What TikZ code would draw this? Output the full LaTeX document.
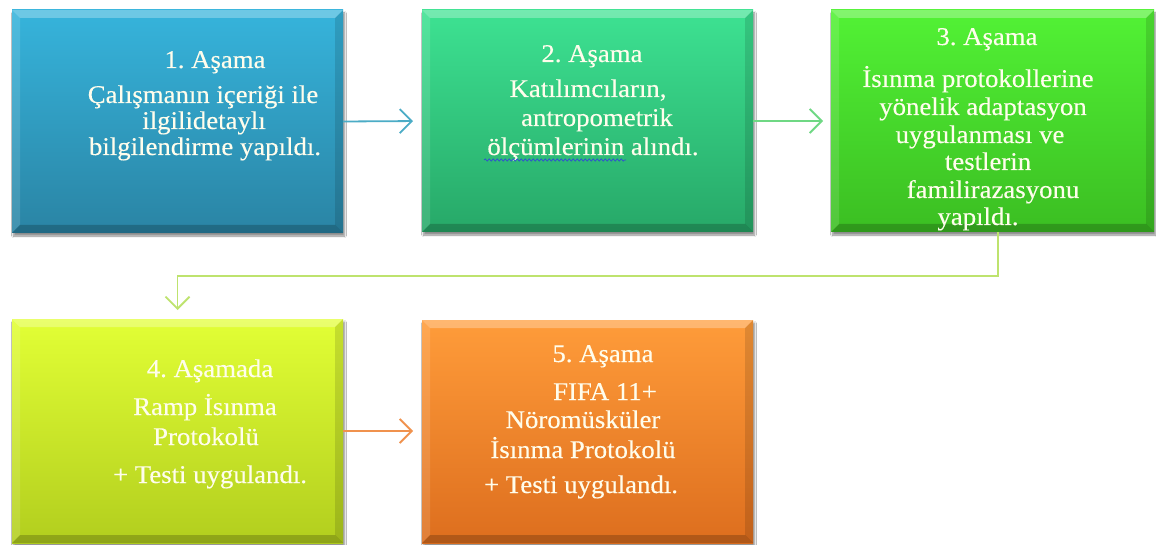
\documentclass[tikz,border=0pt]{standalone}
\usepackage{fontspec}
\setmainfont[FakeStretch=1.05,FakeBold=0.3]{Liberation Serif}
\usetikzlibrary{arrows.meta,calc,shadows.blur,decorations.pathmorphing}
\frenchspacing
\definecolor{txtcol}{RGB}{255,253,236}
\definecolor{bAtop}{HTML}{36B4DC}\definecolor{bAbot}{HTML}{2A84A4}
\definecolor{bBtop}{HTML}{3DE292}\definecolor{bBbot}{HTML}{27A868}
\definecolor{bCtop}{HTML}{52F235}\definecolor{bCbot}{HTML}{3BBE22}
\definecolor{bDtop}{HTML}{E2FF35}\definecolor{bDbot}{HTML}{B2CE1E}
\definecolor{bEtop}{HTML}{FF9C3A}\definecolor{bEbot}{HTML}{DD6E1E}
\definecolor{arA}{HTML}{4BACC6}
\definecolor{arB}{HTML}{6FD884}
\definecolor{arC}{HTML}{BEE36E}
\definecolor{arD}{HTML}{F0924E}
\definecolor{wavecol}{HTML}{3050D0}
\newcommand\bevelit[1]{%
  \fill[white,opacity=.28] (#1.north west) -- (#1.north east) -- ($(#1.north east)+(-8,8)$) -- ($(#1.north west)+(8,8)$) -- cycle;
  \fill[white,opacity=.12] (#1.north west) -- ($(#1.north west)+(8,8)$) -- ($(#1.south west)+(8,-8)$) -- (#1.south west) -- cycle;
  \fill[black,opacity=.12] (#1.north east) -- (#1.south east) -- ($(#1.south east)+(-8,-8)$) -- ($(#1.north east)+(-8,8)$) -- cycle;
  \fill[black,opacity=.20] (#1.south west) -- (#1.south east) -- ($(#1.south east)+(-8,-8)$) -- ($(#1.south west)+(8,-8)$) -- cycle;}
\begin{document}
\begin{tikzpicture}[x=1pt,y=-1pt,
  box/.style={draw=none, inner sep=0pt, outer sep=0pt,
    blur shadow={shadow xshift=1.5pt, shadow yshift=-3pt, shadow blur steps=6, shadow opacity=45}},
  txt/.style={text=txtcol, font=\fontsize{25.5}{30}\selectfont, anchor=base, inner sep=0pt},
  conn/.style={line width=1.8pt, -{Straight Barb[length=12pt,width=24pt]}},
]
\useasboundingbox[fill=white] (0,0) rectangle (1156,545);

% boxes
\node[box, top color=bAtop, bottom color=bAbot, minimum width=331pt, minimum height=223pt] (b1) at (177.5,121.5) {};
\node[box, top color=bBtop, bottom color=bBbot, minimum width=331pt, minimum height=222pt] (b2) at (587.5,121) {};
\node[box, top color=bCtop, bottom color=bCbot, minimum width=323pt, minimum height=222pt] (b3) at (992.5,121) {};
\node[box, top color=bDtop, bottom color=bDbot, minimum width=331pt, minimum height=224pt] (b4) at (177.5,431) {};
\node[box, top color=bEtop, bottom color=bEbot, minimum width=331pt, minimum height=223pt] (b5) at (587.5,431.5) {};
\bevelit{b1}\bevelit{b2}\bevelit{b3}\bevelit{b4}\bevelit{b5}

% connectors
\draw[conn, arA, shorten >=9pt] (b1.east) -- (b2.west);
\draw[conn, arB, shorten >=8pt] (b2.east) -- (b3.west);
\coordinate (elb) at ([xshift=5.5pt]b3.south);
\draw[conn, arC, shorten >=9pt] (elb) -- ++(0,44) -| (b4.north);
\draw[conn, arD, shorten >=9pt] (b4.east) -- (b5.west |- b4.east);

% texts box 1
\node[txt] (t11) at (215,68) {1. Aşama};
\node[txt] (t12) at (203,103) {Çalışmanın içeriği ile};
\node[txt] (t13) at (204,129) {ilgilidetaylı};
\node[txt] (t14) at (205,155) {bilgilendirme yapıldı.};
% box 2
\node[txt] (t21) at (592,62) {2. Aşama};
\node[txt] (t22) at (588,97) {Katılımcıların,};
\node[txt] (t23) at (597,126) {antropometrik};
\node[txt] (t24) at (593,155) {ölçümlerinin alındı.};
\coordinate (w1) at (484,160);
\coordinate (w2) at (626,160);
\draw[wavecol, line width=0.7pt, decorate, decoration={snake, amplitude=1.1pt, segment length=4pt}] (w1) -- (w2);
% box 3
\node[txt] (t31) at (987,45) {3. Aşama};
\node[txt] (t32) at (978,87) {İsınma protokollerine};
\node[txt] (t33) at (983,115) {yönelik adaptasyon};
\node[txt] (t34) at (980,143) {uygulanması ve};
\node[txt] (t35) at (988,170) {testlerin};
\node[txt] (t36) at (993,198) {familirazasyonu};
\node[txt] (t37) at (978,225) {yapıldı.};
% box 4
\node[txt] (t41) at (210,377) {4. Aşamada};
\node[txt] (t42) at (205,415) {Ramp İsınma};
\node[txt] (t43) at (206,445) {Protokolü};
\node[txt] (t44) at (210,483) {+ Testi uygulandı.};
% box 5
\node[txt] (t51) at (603,362) {5. Aşama};
\node[txt] (t52) at (605,400) {FIFA 11+};
\node[txt] (t53) at (583,428) {Nöromüsküler};
\node[txt] (t54) at (583,458) {İsınma Protokolü};
\node[txt] (t55) at (581,493) {+ Testi uygulandı.};
\end{tikzpicture}
\end{document}
